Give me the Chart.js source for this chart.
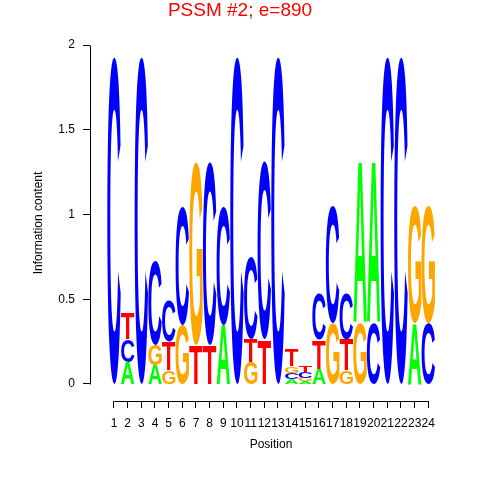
<!DOCTYPE html>
<html>
<head>
<meta charset="utf-8">
<script src="https://cdn.jsdelivr.net/npm/chart.js@4.4.1/dist/chart.umd.min.js"></script>
<style>
html,body{margin:0;padding:0;background:#ffffff;}
#wrap{width:480px;height:480px;}
</style>
</head>
<body>
<div id="wrap"><canvas id="c" width="480" height="480"></canvas></div>
<script>
// ---- data (information content per letter, bits) ----
const positions   = [1,2,3,4,5,6,7,8,9,10,11,12,13,14,15,16,17,18,19,20,21,22,23,24];
const xTickLabels = ['1','2','3','4','5','6','7','8','9','10','11','12','13','14','15','16','17','18','19','20','21','22','23','24'];
const yTickValues = [0,0.5,1,1.5,2];
const yTickLabels = ['0','0.5','1','1.5','2'];
const letters     = ['A','C','G','T'];
const icA = [0,    0.13, 0,    0.11, 0,    0,    0,    0,    0.35, 0,    0,    0,    0,    0.03, 0.015,0.09, 0,    0,    0.94, 0.94, 0,    0,    0.36, 0   ];
const icC = [1.93, 0.135,1.93, 0.50, 0.24, 0.70, 0,    1.08, 0.70, 1.93, 0.48, 1.05, 1.93, 0.035,0.035,0.27, 0.69, 0.27, 0,    0.36, 1.93, 1.93, 0,    0.36];
const icG = [0,    0,    0,    0.12, 0.08, 0.35, 1.08, 0,    0,    0,    0.13, 0,    0,    0.04, 0.02, 0,    0.36, 0.08, 0.36, 0,    0,    0,    0.69, 0.69];
const icT = [0,    0.15, 0,    0,    0.17, 0,    0.23, 0.23, 0,    0,    0.135,0.26, 0,    0.10, 0.04, 0.17, 0,    0.18, 0,    0,    0,    0,    0,    0   ];

// ---- styles ----
const letterColors = {A:'#00FF00', C:'#0000FF', G:'#FFA500', T:'#FF0000'};
const FONT = '"Liberation Sans", Arial, Helvetica, sans-serif';
const GLYPH_FONT = 'bold 200px "Liberation Sans", Arial, sans-serif';

Chart.defaults.font.family = FONT;
Chart.defaults.color = '#000000';

const icByLetter = {A:icA, C:icC, G:icG, T:icT};

function drawGlyph(ctx, ch, color, x0, x1, yTop, yBottom) {
  if (yBottom - yTop <= 0.05) return;
  ctx.save();
  ctx.font = GLYPH_FONT;
  const m = ctx.measureText(ch);
  const gw = m.actualBoundingBoxLeft + m.actualBoundingBoxRight;
  const gh = m.actualBoundingBoxAscent + m.actualBoundingBoxDescent;
  ctx.translate(x0, yTop);
  ctx.scale((x1 - x0) / gw, (yBottom - yTop) / gh);
  ctx.fillStyle = color;
  ctx.textAlign = 'left';
  ctx.textBaseline = 'alphabetic';
  ctx.fillText(ch, m.actualBoundingBoxLeft, m.actualBoundingBoxAscent);
  ctx.restore();
}

const logoPlugin = {
  id: 'logoLetters',
  afterDatasetsDraw(chart) {
    const ctx = chart.ctx;
    const xs = chart.scales.x, ys = chart.scales.y;
    chart.data.labels.forEach((pos, i) => {
      const stack = chart.data.datasets
        .map(ds => ({ch: ds.label, h: ds.data[i].y}))
        .filter(s => s.h > 0)
        .sort((a, b) => a.h - b.h);
      const x0 = xs.getPixelForValue(pos - 0.49);
      const x1 = xs.getPixelForValue(pos + 0.49);
      let base = 0;
      stack.forEach(s => {
        const yb = ys.getPixelForValue(base);
        const yt = ys.getPixelForValue(base + s.h);
        drawGlyph(ctx, s.ch, letterColors[s.ch], x0, x1, yt, yb);
        base += s.h;
      });
    });
  }
};

const axisLinesPlugin = {
  id: 'axisLines',
  afterDraw(chart) {
    const ctx = chart.ctx;
    const xs = chart.scales.x, ys = chart.scales.y;
    const area = chart.chartArea;
    ctx.save();
    ctx.strokeStyle = '#000000';
    ctx.lineWidth = 1;
    ctx.beginPath();
    const lx = Math.round(area.left) + 0.5;
    ctx.moveTo(lx, Math.round(ys.getPixelForValue(yTickValues[0])) + 0.5);
    ctx.lineTo(lx, Math.round(ys.getPixelForValue(yTickValues[yTickValues.length - 1])) + 0.5);
    const by = Math.round(area.bottom) + 0.5;
    ctx.moveTo(Math.round(xs.getPixelForValue(positions[0])) + 0.5, by);
    ctx.lineTo(Math.round(xs.getPixelForValue(positions[positions.length - 1])) + 0.5, by);
    ctx.stroke();
    ctx.restore();
  }
};

new Chart(document.getElementById('c'), {
  type: 'scatter',
  data: {
    labels: positions,
    datasets: letters.map(L => ({
      label: L,
      data: positions.map((p, i) => ({x: p, y: icByLetter[L][i]})),
      pointRadius: 0,
      pointHoverRadius: 0,
      showLine: false
    }))
  },
  options: {
    responsive: false,
    animation: false,
    events: [],
    layout: {padding: 0},
    plugins: {
      legend: {display: false},
      tooltip: {enabled: false},
      title: {
        display: true,
        text: 'PSSM #2; e=890',
        color: '#FF0000',
        font: {size: 19, weight: 'normal', family: FONT, lineHeight: 1},
        padding: {top: 1, bottom: 25}
      }
    },
    scales: {
      x: {
        type: 'linear',
        min: -0.7563,
        max: 25.735,
        offset: false,
        afterFit(s) { s.height = 79; },
        afterBuildTicks(s) { s.ticks = positions.map(v => ({value: v})); },
        ticks: {
          autoSkip: false, maxRotation: 0, minRotation: 0, padding: 8,
          font: {size: 12}, color: '#000000',
          callback: v => xTickLabels[positions.indexOf(v)]
        },
        grid: {drawOnChartArea: false, drawTicks: true, tickLength: 7, color: '#000000', lineWidth: 1},
        border: {display: false},
        title: {display: true, text: 'Position', font: {size: 12}, color: '#000000', padding: {top: 0, bottom: 27.8}}
      },
      y: {
        type: 'linear',
        min: -0.1003,
        max: 2,
        afterFit(s) { s.width = 90; },
        afterBuildTicks(s) { s.ticks = yTickValues.map(v => ({value: v})); },
        ticks: {
          padding: 8, font: {size: 12}, color: '#000000',
          callback: v => yTickLabels[yTickValues.indexOf(v)]
        },
        grid: {drawOnChartArea: false, drawTicks: true, tickLength: 7, color: '#000000', lineWidth: 1},
        border: {display: false},
        title: {display: true, text: 'Information content', font: {size: 12}, color: '#000000', padding: {top: 31, bottom: 0}}
      },
      yRightMargin: {
        axis: 'y',
        position: 'right',
        display: true,
        afterFit(s) { s.width = 28; },
        ticks: {display: false},
        grid: {display: false, drawTicks: false},
        border: {display: false}
      }
    }
  },
  plugins: [logoPlugin, axisLinesPlugin]
});
</script>
</body>
</html>
